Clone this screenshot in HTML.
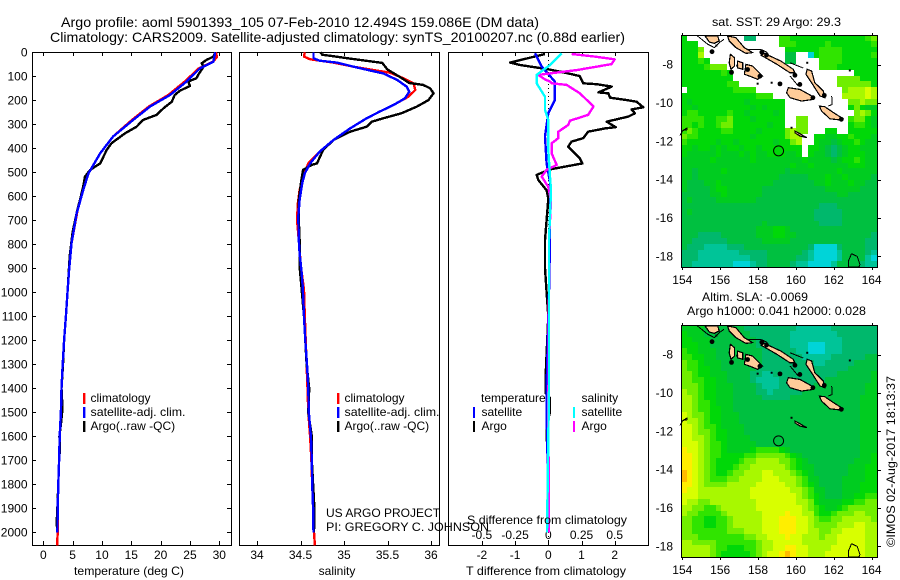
<!DOCTYPE html>
<html>
<head>
<meta charset="utf-8">
<title>Argo profile</title>
<style>
html,body{margin:0;padding:0;background:#fff;}
svg{display:block;}
text{font-family:"Liberation Sans",sans-serif;font-size:12px;fill:#000;}
</style>
</head>
<body>
<svg id="chart" xmlns="http://www.w3.org/2000/svg" width="900" height="580" viewBox="0 0 900 580">
<rect x="0" y="0" width="900" height="580" fill="#fff"/>
<text x="61" y="27" style="font-size:14px" textLength="478" lengthAdjust="spacingAndGlyphs">Argo profile: aoml 5901393_105 07-Feb-2010 12.494S 159.086E (DM data)</text>
<text x="50" y="42" style="font-size:14px" textLength="575" lengthAdjust="spacingAndGlyphs">Climatology: CARS2009. Satellite-adjusted climatology: synTS_20100207.nc (0.88d earlier)</text>
<g id="plots"></g>
<g id="maps"></g>

<g>
<rect x="83" y="393" width="2.4" height="11" fill="#f00"/>
<rect x="83" y="407" width="2.4" height="11" fill="#00f"/>
<rect x="83" y="421" width="2.4" height="11" fill="#000"/>
<text x="90.5" y="402">climatology</text>
<text x="90.5" y="416" textLength="95" lengthAdjust="spacingAndGlyphs">satellite-adj. clim.</text>
<text x="90.5" y="430">Argo(..raw -QC)</text>
</g>
<g>
<rect x="337" y="393" width="2.4" height="11" fill="#f00"/>
<rect x="337" y="407" width="2.4" height="11" fill="#00f"/>
<rect x="337" y="421" width="2.4" height="11" fill="#000"/>
<text x="344.5" y="402">climatology</text>
<text x="344.5" y="416" textLength="95" lengthAdjust="spacingAndGlyphs">satellite-adj. clim.</text>
<text x="344.5" y="430">Argo(..raw -QC)</text>
</g>
<text x="326" y="517">US ARGO PROJECT</text>
<text x="326" y="531" textLength="163" lengthAdjust="spacingAndGlyphs">PI: GREGORY C. JOHNSON</text>
<g>
<text x="481" y="402">temperature</text>
<rect x="473" y="407" width="2" height="11" fill="#00f"/>
<text x="481.5" y="416">satellite</text>
<rect x="473" y="421" width="2" height="11" fill="#000"/>
<text x="481.5" y="430">Argo</text>
<text x="581.5" y="402">salinity</text>
<rect x="573" y="407" width="2" height="11" fill="#0ff"/>
<text x="581.5" y="416">satellite</text>
<rect x="573" y="421" width="2" height="11" fill="#f0f"/>
<text x="581.5" y="430">Argo</text>
</g>
<text x="467" y="524" textLength="160" lengthAdjust="spacingAndGlyphs">S difference from climatology</text>
<text x="74" y="575" textLength="110" lengthAdjust="spacingAndGlyphs">temperature (deg C)</text>
<text x="337" y="575" text-anchor="middle">salinity</text>
<text x="466" y="575" textLength="160" lengthAdjust="spacingAndGlyphs">T difference from climatology</text>
<text x="712" y="26" textLength="129" lengthAdjust="spacingAndGlyphs">sat. SST: 29 Argo: 29.3</text>
<text x="702" y="301" textLength="106" lengthAdjust="spacingAndGlyphs">Altim. SLA: -0.0069</text>
<text x="687" y="315" textLength="179" lengthAdjust="spacingAndGlyphs">Argo h1000: 0.041 h2000: 0.028</text>
<text transform="translate(895,547) rotate(-90)" textLength="171" lengthAdjust="spacingAndGlyphs">©IMOS 02-Aug-2017 18:13:37</text>
</svg>

<script>
// ---- depth axis ----
const depthTicks = [0,100,200,300,400,500,600,700,800,900,1000,1100,1200,1300,1400,1500,1600,1700,1800,1900,2000];
const tempTicks = [0,5,10,15,20,25,30];
const salTicks = [34,34.5,35,35.5,36];
const salTickLabels = ["34","34.5","35","35.5","36"];
const tDiffTicks = [-2,-1,0,1,2];
const sDiffTicks = [-0.5,-0.25,0,0.25,0.5];
const sDiffTickLabels = ["-0.5","-0.25","0","0.25","0.5"];
const lonTicks = [154,156,158,160,162,164];
const latTicks = [-8,-10,-12,-14,-16,-18];

// ---- temperature profiles ----
const tempSatDepth = [0,39,67,122,178,226,282,351,421,504,574,671,796,907,976,1100,1200,1300,1400,1500,1600,1700,1800,1900,2000];
const tempSat = [29.3,29.0,26.7,24.4,21.6,18.2,15.3,11.9,9.7,7.7,6.8,5.7,4.8,4.4,4.2,3.85,3.55,3.3,3.1,3.0,2.8,2.7,2.56,2.45,2.4];
const tempClimDepth = [0,20,39,67,122,178,226,282,351,421,504,574,650,796,907,976,1100,1200,1300,1400,1500,1600,1700,1800,1900,2000,2054];
const tempClim = [29.4,29.6,28.9,26.5,24.1,21.3,18.0,15.1,11.9,9.7,7.7,6.75,5.9,4.8,4.4,4.2,3.85,3.55,3.3,3.1,3.0,2.8,2.7,2.56,2.45,2.45,2.35];
const tempArgoDepth = [0,18,32,46,60,94,108,122,140,160,178,206,233,261,282,310,338,379,407,463,490,518,560,615,657,750,850,976,1100,1200,1300,1400,1450,1500,1550,1600,1650,1700,1800,1900,1950,2000];
const tempArgo = [29.3,29.0,27.8,27.0,27.3,26.4,26.1,24.7,25.0,23.3,22.4,21.9,20.5,19.3,17.0,15.9,13.9,11.6,10.8,9.7,8.0,7.1,6.8,6.25,5.8,5.0,4.5,4.2,3.85,3.55,3.35,3.1,3.2,3.2,3.0,2.75,2.85,2.7,2.55,2.4,2.3,2.35];

// ---- salinity profiles ----
const salSatDepth = [0,25,35,43,60,76,88,115,143,164,192,219,247,275,317,365,414,463,504,546,615,685,782,838,907,976,1100,1200,1300,1400,1500,1600,1700,1800,1900,2000];
const salSat = [34.65,34.65,34.72,34.92,35.11,35.30,35.45,35.61,35.72,35.75,35.70,35.57,35.41,35.26,35.07,34.88,34.72,34.61,34.55,34.52,34.49,34.475,34.48,34.49,34.51,34.525,34.54,34.555,34.575,34.59,34.595,34.62,34.63,34.635,34.645,34.65];
const salClimDepth = [0,18,29,43,60,74,85,108,129,157,185,219,247,275,317,365,414,463,518,574,629,699,782,893,990,1100,1200,1300,1400,1500,1600,1700,1800,1900,2000,2054];
const salClim = [34.55,34.54,34.61,34.88,35.11,35.34,35.53,35.68,35.80,35.82,35.74,35.57,35.41,35.26,35.07,34.88,34.72,34.59,34.53,34.49,34.47,34.46,34.48,34.505,34.54,34.55,34.56,34.57,34.58,34.59,34.61,34.625,34.635,34.645,34.655,34.665];
const salArgoDepth = [0,10,26,44,72,100,128,136,150,171,199,226,254,275,289,310,331,365,407,463,469,490,532,560,615,699,782,893,976,1100,1200,1300,1400,1500,1600,1700,1800,1900,2000];
const salArgo = [34.73,34.75,35.06,35.44,35.5,35.63,35.75,35.91,35.99,36.03,35.97,35.84,35.66,35.45,35.32,35.26,35.07,34.88,34.76,34.69,34.63,34.53,34.51,34.50,34.48,34.48,34.49,34.49,34.51,34.54,34.555,34.57,34.6,34.59,34.63,34.63,34.645,34.66,34.655];

// ---- difference profiles ----
const tDiffArgoDepth = [7,43,53,71,88,99,129,133,143,167,171,189,199,206,229,238,254,268,279,289,312,317,331,358,372,393,442,463,488,511,532,575,610,700,783,900,1000,1100,1350,1420,1440,1500,1550,1600,1700,2000];
const tDiffArgo = [-0.1,-1.15,-0.85,0,0.6,0.95,1.05,1.46,1.91,1.51,1.81,1.86,2.36,2.66,2.86,2.51,2.61,2.41,2.06,1.76,2.03,1.71,1.2,1.05,0.7,0.6,0.95,1.03,0.05,-0.35,-0.3,-0.05,0,-0.05,-0.1,-0.1,-0.05,0,-0.08,-0.08,0.05,0.05,-0.05,-0.05,0,0];
const tDiffSatDepth = [4,60,122,199,254,351,463,540,783,1000,1400,1500,1700,2000];
const tDiffSat = [-0.4,-0.2,0.2,0.2,0,-0.1,-0.05,0.05,0.05,0.02,-0.05,-0.05,-0.02,-0.02];
const sDiffArgoDepth = [7,18,29,49,74,94,113,122,129,136,171,226,261,285,303,331,358,379,421,469,490,518,561,617,783,1000,1500,2000];
const sDiffArgo = [0.176,0.35,0.5,0.477,0.213,-0.075,-0.025,0.0125,0.025,0.138,0.238,0.34,0.3,0.163,0.15,0.075,0.075,0.025,0.025,0.063,-0.0125,-0.05,0,0.02,0.005,0.005,0,0.005];
const sDiffSatDepth = [4,53,94,129,185,240,282,407,518,575,783,1400,2000];
const sDiffSat = [0.1,0.0125,-0.088,-0.088,-0.025,-0.025,0,0,0.0125,0.02,0.005,0.005,-0.01];

// ---- map values: colour-level per grid cell, -1 = no data ----
const sstLevels = [
[5,-1,-1,-1,-1,-1,-1,-1,-1,-1,-1,2,2,-1,-1,-1,-1,6,6,5,5,5,5,5,5,5,5,5,5,5,5,5,6,7],
[5,5,5,-1,-1,-1,-1,-1,-1,-1,-1,-1,-1,-1,-1,-1,-1,6,6,6,5,5,5,5,5,6,5,5,5,5,5,5,5,6],
[5,5,5,7,-1,-1,-1,-1,-1,-1,-1,-1,-1,-1,-1,-1,-1,-1,5,5,5,5,5,5,6,6,6,6,5,5,5,5,5,5],
[5,5,5,8,-1,-1,-1,-1,-1,-1,-1,-1,-1,-1,-1,-1,-1,-1,3,3,-1,-1,0,5,6,6,6,6,5,5,5,5,5,6],
[5,5,5,6,5,-1,-1,-1,-1,-1,-1,-1,-1,-1,-1,-1,-1,-1,3,3,-1,-1,-1,-1,6,6,6,6,5,5,5,5,5,5],
[5,5,5,5,6,7,7,7,-1,-1,-1,-1,-1,-1,-1,-1,-1,-1,-1,-1,-1,-1,-1,-1,6,6,6,5,5,5,5,5,5,5],
[5,5,5,5,5,5,5,6,5,-1,-1,-1,-1,-1,-1,-1,-1,-1,-1,-1,-1,-1,-1,-1,-1,-1,-1,-1,-1,-1,5,5,5,5],
[5,5,5,5,5,5,5,5,5,-1,-1,-1,-1,-1,-1,-1,-1,-1,-1,-1,-1,-1,-1,-1,-1,-1,-1,7,7,7,7,5,5,5],
[5,5,5,5,5,5,5,5,6,6,-1,-1,-1,-1,-1,-1,-1,-1,-1,-1,-1,-1,-1,-1,-1,-1,-1,7,7,7,7,7,7,5],
[-1,5,5,5,5,5,5,5,5,6,6,6,6,-1,-1,-1,-1,-1,-1,-1,-1,-1,-1,-1,-1,-1,-1,-1,7,8,8,8,9,8],
[5,5,5,5,5,5,5,5,5,5,5,5,5,6,6,6,-1,-1,-1,-1,-1,-1,-1,-1,-1,-1,-1,-1,8,8,8,8,9,8],
[5,4,5,5,5,5,5,5,5,5,5,4,5,5,5,5,5,5,-1,-1,-1,-1,-1,-1,-1,-1,-1,-1,-1,7,7,8,7,7],
[5,5,4,5,5,5,5,5,5,5,5,5,4,5,4,5,5,5,-1,-1,-1,-1,-1,-1,-1,-1,-1,-1,-1,5,7,5,4,4],
[5,6,6,5,5,5,5,5,6,5,5,4,5,5,5,5,4,5,-1,-1,-1,-1,-1,-1,-1,-1,-1,-1,-1,-1,7,8,7,5],
[6,6,6,6,5,5,6,6,7,5,5,5,4,5,5,5,5,5,-1,-1,7,7,-1,-1,-1,-1,-1,-1,-1,6,7,7,5,4],
[6,6,5,6,5,5,6,7,7,5,5,5,5,5,5,4,5,5,-1,-1,7,7,-1,-1,-1,-1,-1,-1,-1,5,6,6,5,4],
[6,7,6,5,5,5,5,6,6,5,5,5,5,4,5,5,5,5,7,8,7,7,-1,-1,-1,5,5,-1,-1,5,5,5,5,5],
[7,6,6,5,5,5,5,5,5,5,5,5,4,5,5,5,5,5,7,8,8,-1,-1,5,5,4,4,5,5,6,5,5,5,4],
[6,5,5,5,5,5,4,5,5,4,5,5,5,5,5,5,4,5,5,7,8,-1,-1,5,4,4,3,4,5,5,6,5,4,4],
[5,5,4,5,5,4,5,4,5,5,4,5,5,4,5,5,5,5,5,5,5,-1,5,5,4,3,2,3,4,5,5,4,4,4],
[5,4,4,4,4,4,5,4,4,4,5,4,5,4,4,5,5,5,4,4,5,-1,5,4,4,3,2,3,4,5,5,5,4,4],
[4,4,4,4,4,5,4,4,4,4,4,4,5,4,4,4,4,4,4,4,4,5,4,4,4,4,3,4,5,5,6,5,4,4],
[4,4,4,4,4,4,4,4,4,4,4,4,4,4,4,4,4,4,4,5,4,4,5,4,4,4,4,4,4,5,5,5,4,4],
[4,4,3,4,4,4,4,5,4,4,4,4,4,4,4,4,4,4,3,4,4,4,4,4,4,4,4,5,4,4,4,4,4,4],
[4,4,3,4,4,4,4,4,4,4,4,4,4,4,4,4,4,3,3,3,3,3,4,4,4,5,4,4,5,4,4,4,4,3],
[4,3,3,3,4,4,5,4,4,4,4,4,4,4,4,4,3,3,3,3,3,3,3,4,4,5,4,4,4,5,4,4,3,3],
[4,3,3,3,3,4,5,5,4,4,4,4,4,4,3,3,3,3,3,3,3,3,3,3,3,4,4,4,4,4,4,3,3,3],
[3,3,3,3,3,4,4,5,4,4,4,4,4,4,3,3,3,3,3,3,3,3,3,3,3,3,3,4,4,3,3,3,3,3],
[3,4,3,3,3,3,4,4,4,4,4,4,4,3,3,3,3,3,3,3,3,3,3,3,3,3,3,3,3,3,3,3,3,3],
[3,3,3,3,3,3,3,3,3,3,3,3,3,3,3,3,3,3,3,3,3,3,3,3,2,2,2,3,3,3,3,3,3,3],
[3,4,3,3,3,3,3,3,3,3,3,3,3,3,3,3,3,3,3,3,3,3,3,2,2,2,2,2,3,3,3,3,3,3],
[3,3,3,3,3,3,3,3,3,3,3,3,3,3,3,3,3,3,3,3,3,3,3,2,2,2,2,2,3,3,3,3,3,3],
[3,3,3,3,3,3,3,3,3,3,3,3,3,3,4,3,3,3,3,3,3,3,3,3,2,2,2,2,3,3,3,3,3,3],
[3,3,3,3,3,3,3,3,3,3,3,3,3,4,4,4,5,5,4,3,3,3,3,3,3,3,3,3,3,3,3,3,3,3],
[3,3,3,2,2,2,2,3,3,3,3,3,3,4,4,4,5,5,4,4,3,3,3,3,3,3,3,3,3,3,3,3,3,2],
[3,3,2,2,2,2,2,2,3,3,3,3,3,3,4,4,4,4,4,3,3,3,3,3,3,3,3,3,3,3,3,3,2,2],
[3,2,2,2,1,1,1,1,2,2,2,3,3,3,3,3,3,3,3,3,3,3,2,0,0,0,0,2,3,3,3,3,2,2],
[2,2,2,1,1,1,1,1,1,1,2,2,2,2,2,3,3,3,3,3,3,2,1,0,0,0,0,1,3,3,3,3,2,1],
[2,2,2,1,1,1,1,1,1,1,1,1,2,2,2,3,3,3,3,3,2,2,1,0,0,0,0,1,3,3,3,3,1,0],
[2,2,1,1,1,1,1,1,1,0,0,0,1,2,2,3,3,3,3,2,1,1,0,0,0,0,1,3,3,3,3,2,1,1]
];
const slaLevels = [
[4,4,4,4,3,3,3,3,3,3,3,2,2,2,2,2,2,2,2,2,1,1,1,1,1,1,2,2,2,2,2,2,2,2],
[5,4,4,4,3,3,3,3,3,3,3,3,2,2,2,2,2,2,2,1,1,1,1,1,1,1,1,2,2,2,2,2,2,2],
[5,5,4,4,4,3,3,3,3,3,3,3,3,2,2,2,2,2,2,1,1,1,1,1,1,1,1,1,2,2,2,2,2,2],
[5,5,5,4,4,3,3,3,3,3,3,3,3,2,2,2,2,2,2,1,1,1,0,0,0,1,1,1,2,2,2,2,2,2],
[6,5,5,4,4,4,3,3,3,3,3,3,3,3,2,2,2,2,2,2,1,1,0,0,0,1,1,1,2,2,2,2,2,2],
[6,6,5,5,4,4,3,3,3,3,3,3,3,3,2,2,2,2,2,2,2,1,1,1,1,1,2,2,2,2,2,2,3,3],
[7,6,6,5,4,4,4,3,3,3,3,3,3,3,2,2,2,2,2,2,2,2,2,1,1,2,2,2,2,2,3,3,3,3],
[7,6,6,5,5,4,4,3,3,3,3,3,3,2,2,2,2,2,2,2,2,2,2,2,2,2,2,2,2,3,3,3,3,3],
[7,7,6,5,5,4,4,4,3,3,3,3,2,2,1,1,2,2,2,2,2,2,2,2,2,2,2,3,3,3,3,3,3,4],
[7,7,6,6,5,5,4,4,3,3,3,3,2,1,1,1,1,2,2,2,2,2,2,2,2,3,3,3,3,3,3,3,3,4],
[7,7,7,6,5,5,4,4,4,3,3,3,3,2,1,1,1,2,2,2,2,2,2,3,3,3,3,3,3,3,3,3,4,4],
[8,7,7,6,5,5,4,4,4,3,3,3,3,2,2,1,2,2,2,2,2,3,3,3,3,3,3,3,3,3,3,3,4,4],
[8,8,7,6,5,5,4,4,4,3,3,3,3,3,2,2,2,2,2,3,3,3,3,3,3,3,3,3,3,3,3,4,4,4],
[8,8,7,6,6,5,4,4,4,3,3,3,3,3,3,3,3,3,3,3,3,3,3,3,3,3,3,3,3,3,3,4,4,4],
[8,8,7,6,6,5,5,4,4,3,3,3,3,3,3,3,3,3,3,3,3,3,3,3,3,3,3,3,3,3,3,4,4,4],
[9,8,7,7,6,5,5,4,4,4,3,3,3,3,3,3,3,3,3,3,3,3,3,3,3,3,3,3,3,3,3,4,4,4],
[9,8,8,7,6,5,5,4,4,4,3,3,3,3,3,3,3,3,3,3,3,3,3,3,3,3,3,3,3,3,3,4,4,4],
[9,9,8,7,6,6,5,4,4,4,4,3,3,3,3,3,3,3,3,3,3,3,3,3,3,3,3,3,3,3,3,4,4,4],
[9,9,8,7,7,6,5,5,4,4,4,3,3,3,3,3,3,3,3,3,3,3,3,3,3,3,3,3,3,3,3,4,4,4],
[9,9,8,8,7,6,5,5,4,4,4,4,3,3,3,3,3,3,3,3,3,3,3,3,3,3,3,3,3,3,3,4,4,4],
[9,9,9,8,7,6,6,5,4,4,4,4,4,3,3,3,3,3,3,3,3,3,3,3,3,3,3,3,3,3,3,4,4,4],
[10,9,9,8,7,6,6,5,4,4,4,4,5,6,6,6,6,5,4,3,3,3,3,3,3,3,3,3,3,3,3,4,4,4],
[10,10,9,8,7,6,6,5,5,5,5,6,6,7,7,7,7,7,6,5,4,3,3,3,3,3,3,3,3,3,3,4,4,5],
[10,10,9,8,7,6,5,5,5,5,6,7,7,8,8,8,8,7,7,6,5,4,3,3,3,3,3,3,3,3,4,4,4,5],
[10,10,9,8,7,6,5,5,5,6,7,7,8,8,8,8,8,8,7,6,5,4,4,3,3,3,3,3,3,4,4,4,5,5],
[11,10,9,8,7,6,5,5,6,7,7,8,8,8,9,9,8,8,8,7,6,5,4,3,3,3,3,3,3,4,4,4,5,5],
[11,10,9,8,7,6,6,6,7,7,8,8,8,8,9,9,9,8,8,8,7,6,4,4,3,3,3,3,4,4,4,4,5,5],
[10,10,9,8,7,7,7,7,8,8,8,8,8,9,9,9,9,9,8,8,7,6,5,4,3,3,3,3,4,4,4,5,5,5],
[10,9,9,8,8,8,8,8,8,8,8,8,9,9,9,9,9,9,9,8,8,7,6,4,4,3,3,3,4,4,4,5,5,5],
[9,9,9,8,8,8,8,8,8,8,8,8,9,9,9,9,9,9,9,9,8,7,6,5,4,3,3,3,4,4,5,5,6,6],
[9,8,8,7,7,8,8,8,8,8,8,8,8,9,9,9,9,9,9,9,8,8,7,5,4,4,4,4,5,5,6,6,7,7],
[8,8,7,7,6,6,7,8,8,8,8,8,8,9,9,9,9,9,9,9,9,8,7,6,5,4,4,5,6,7,7,7,7,7],
[8,7,7,6,6,6,6,7,8,8,8,8,8,8,9,9,9,9,10,9,9,8,8,6,5,5,6,7,7,7,8,8,7,7],
[7,7,6,6,5,5,6,6,7,8,8,8,8,8,9,9,9,10,10,10,9,9,8,7,6,6,7,7,8,8,8,8,8,7],
[7,7,6,6,5,5,6,6,7,8,8,8,8,8,9,9,9,10,10,10,9,9,8,7,7,7,7,8,8,8,9,9,8,8],
[7,7,6,6,6,6,6,6,7,7,7,8,8,8,9,9,9,10,10,10,9,9,8,8,7,7,8,8,9,9,9,9,8,8],
[7,7,7,6,6,6,6,6,6,6,6,7,7,8,8,9,9,9,10,9,9,8,8,8,7,8,8,9,9,9,9,9,8,8],
[8,8,7,7,7,7,6,6,6,6,6,6,6,7,8,8,9,9,9,9,9,8,8,8,8,8,8,9,9,9,9,9,8,8],
[8,8,8,8,8,7,6,6,5,5,5,6,6,7,8,8,9,9,10,10,9,9,8,8,8,8,9,9,9,9,9,9,8,8],
[8,8,8,8,8,7,6,5,5,5,5,5,6,7,8,9,9,10,11,10,9,9,8,8,8,9,9,9,9,9,9,9,8,8]
];
const profileLon = [159.086];
const profileLat = [-12.494];
// coast polygons in lon / lat degrees
const landPolygons = [
[[155.2,-6.5],[155.87,-6.5],[155.95,-6.76],[155.69,-6.89],[155.43,-6.82]],
[[156.39,-6.5],[156.83,-6.59],[157.27,-7.11],[157.71,-7.37],[157.36,-7.41],[156.83,-7.11],[156.48,-6.76]],
[[158.33,-7.41],[159.21,-7.81],[159.86,-8.24],[159.95,-8.42],[159.69,-8.42],[159.0,-7.98],[158.5,-7.7],[158.15,-7.5]],
[[156.54,-7.46],[156.75,-7.63],[156.75,-8.07],[156.57,-8.24],[156.48,-7.9]],
[[156.92,-7.81],[157.19,-7.9],[157.19,-8.24],[156.92,-8.16]],
[[157.36,-7.98],[157.71,-8.07],[158.24,-8.59],[157.98,-8.76],[157.54,-8.59],[157.28,-8.5]],
[[159.6,-9.2],[160.21,-9.29],[160.83,-9.63],[160.92,-9.81],[160.3,-9.9],[159.69,-9.72],[159.51,-9.46]],
[[160.6,-8.24],[160.83,-8.33],[161.0,-8.94],[161.45,-9.37],[161.53,-9.72],[161.27,-9.63],[160.83,-8.94],[160.53,-8.5]],
[[161.24,-10.16],[161.53,-10.19],[161.98,-10.5],[162.5,-10.82],[162.42,-10.89],[161.8,-10.82],[161.36,-10.42]],
[[159.95,-11.46],[160.21,-11.6],[160.57,-11.81],[160.21,-11.72],[159.95,-11.55]]
];
const coastOutlines = [
[[154.8,-6.5],[155.34,-6.93],[155.69,-7.11],[155.95,-6.85],[156.2,-6.68]],
[[157.45,-7.2],[158.15,-7.2],[158.5,-7.37]],
[[159.69,-7.9],[160.39,-8.17]],
[[159.69,-8.59],[160.13,-9.11]],
[[161.89,-9.63],[161.92,-10.07],[161.71,-10.16]],
[[162.94,-17.86],[163.24,-18],[163.38,-18.43],[163.33,-18.56],[162.77,-18.56],[162.77,-18.26],[162.94,-17.86]],
[[153.88,-11.7],[154.02,-11.43],[154.26,-11.3],[154.26,-11.39],[154.02,-11.43]]
];
const islandBlobs = [[155.57,-7.32],[159.16,-9.0],[160.21,-9.03],[158.2,-7.35],[158.45,-7.5],[157.45,-8.25],[158.1,-8.6],[156.6,-8.4],[159.95,-8.55],[160.9,-9.72],[161.5,-9.6],[162.4,-10.85]];
const islandDots = [[158.72,-8.94],[157.98,-8.99],[159.77,-11.29],[160.6,-7.9],[162.85,-8.3],[155.8,-7.0],[156.9,-8.05]];
const levelColors = ["#00d4d8","#00c498","#00b86c","#00c040","#00cc20","#00d808","#30e400","#70ee00","#a8f800","#d8ff00","#ffee00","#ffbb00"];

// ---- scales ----
const NS = "http://www.w3.org/2000/svg";
const depthY = d => 52.3 + d * 0.24;
const tempX = t => 43.3 + t * 5.867;
const salX = s => 257 + (s - 34) * 87;
const tDiffX = v => 548.3 + v * 33.2;
const sDiffX = v => 548.3 + v * 132.8;
const lonX = lon => 682.3 + (lon - 154) * 18.93;
const latY = (lat, top) => top + 29.7 + (-8 - lat) * 19.17;

function mk(tag, attrs, parent) {
  const el = document.createElementNS(NS, tag);
  for (const k in attrs) el.setAttribute(k, attrs[k]);
  parent.appendChild(el);
  return el;
}
const plots = document.getElementById("plots");
const maps = document.getElementById("maps");

function frame(x0, x1, y0, y1, parent) {
  const el = mk("rect", {x: x0 + .5, y: y0 + .5, width: x1 - x0, height: y1 - y0, fill: "none", stroke: "#000", "stroke-width": 1, "shape-rendering": "crispEdges"}, parent);
  
  
}
function tick(x1, y1, x2, y2, parent) {
  const el = mk("line", {x1: x1, y1: y1, x2: x2, y2: y2, stroke: "#000", "stroke-width": 1, "shape-rendering": "crispEdges"}, parent);
  
  
}
function label(x, y, s, anchor, parent) {
  const el = mk("text", {x: x, y: y, "text-anchor": anchor}, parent);
  el.textContent = s;
  
  
}
function curve(depths, values, xf, color, width, name) {
  const pts = depths.map((d, i) => xf(values[i]).toFixed(1) + "," + depthY(d).toFixed(1)).join(" ");
  const el = mk("polyline", {points: pts, fill: "none", stroke: color, "stroke-width": width, "shape-rendering": "crispEdges", "stroke-linejoin": "round"}, plots);
  
  
}

// panel frames
const panelLeft = [32, 239, 448];
const panelRight = [231, 439, 648];
panelLeft.forEach((x, i) => frame(x, panelRight[i], 52, 545, plots));

// x axis ticks and labels
function xAxis(ticks, labels, xf, labelY, topTicks) {
  ticks.forEach((t, i) => {
    const x = Math.round(xf(t)) + .5;
    if (topTicks) tick(x, 52, x, 56, plots);
    tick(x, 545, x, 541, plots);
    if (labelY) label(xf(t), labelY, labels[i], "middle", plots);
  });
}
xAxis(tempTicks, tempTicks.map(String), tempX, 559, true);
xAxis(salTicks, salTickLabels, salX, 559, true);
xAxis(tDiffTicks, tDiffTicks.map(String), tDiffX, 559, false);
xAxis(sDiffTicks, sDiffTickLabels, sDiffX, 539, true);

// depth axis
depthTicks.forEach(d => {
  const y = Math.round(depthY(d)) + .5;
  tick(32, y, 36, y, plots);
  tick(231, y, 227, y, plots);
  label(27.5, depthY(d) + 4, String(d), "end", plots);
});

// zero line in the difference panel
const zeroLine = mk("line", {x1: tDiffX(0), y1: 52, x2: tDiffX(0), y2: 545, stroke: "#000", "stroke-width": 1, "stroke-dasharray": "1 3", "shape-rendering": "crispEdges"}, plots);



// series
curve(tempClimDepth, tempClim, tempX, "#f00", 2.4, "temperature-climatology-line");
curve(tempArgoDepth, tempArgo, tempX, "#000", 2.4, "temperature-argo-line");
curve(tempSatDepth, tempSat, tempX, "#00f", 2.4, "temperature-satellite-line");
curve(salClimDepth, salClim, salX, "#f00", 2.4, "salinity-climatology-line");
curve(salArgoDepth, salArgo, salX, "#000", 2.4, "salinity-argo-line");
curve(salSatDepth, salSat, salX, "#00f", 2.4, "salinity-satellite-line");
curve(tDiffArgoDepth, tDiffArgo, tDiffX, "#000", 2.4, "t-difference-argo-line");
curve(tDiffSatDepth, tDiffSat, tDiffX, "#00f", 2.4, "t-difference-satellite-line");
curve(sDiffArgoDepth, sDiffArgo, sDiffX, "#f0f", 2.4, "s-difference-argo-line");
curve(sDiffSatDepth, sDiffSat, sDiffX, "#0ff", 2.4, "s-difference-satellite-line");

// maps
const lonOrigin = 153.93, lonStep = 0.3044, latOrigin = -6.45, latStep = 0.3025;
function drawMap(levels, top, name) {
  const g = mk("g", {}, maps);
  
  
  levels.forEach((row, r) => {
    row.forEach((v, c) => {
      if (v < 0) return;
      const x = lonX(lonOrigin + c * lonStep), y = latY(latOrigin - r * latStep, top);
      const x2 = lonX(lonOrigin + (c + 1) * lonStep), y2 = latY(latOrigin - (r + 1) * latStep, top);
      const cell = mk("rect", {x: Math.round(x), y: Math.round(y), width: Math.round(x2) - Math.round(x), height: Math.round(y2) - Math.round(y), fill: levelColors[v], "shape-rendering": "crispEdges"}, g);
      
      
    });
  });
  const ptStr = ring => ring.map(p => lonX(p[0]).toFixed(1) + "," + latY(p[1], top).toFixed(1)).join(" ");
  landPolygons.forEach(ring => {
    const el = mk("polygon", {points: ptStr(ring), fill: "#ffcc99", stroke: "#000", "stroke-width": 1.2, "shape-rendering": "crispEdges"}, g);
    
    
  });
  coastOutlines.forEach(ring => {
    const el = mk("polyline", {points: ptStr(ring), fill: "none", stroke: "#000", "stroke-width": 1, "shape-rendering": "crispEdges"}, g);
    
    
  });
  islandBlobs.forEach(p => {
    const el = mk("circle", {cx: lonX(p[0]), cy: latY(p[1], top), r: 2.4, fill: "#000"}, g);
    
    
  });
  islandDots.forEach(p => {
    const el = mk("rect", {x: lonX(p[0]) - 1, y: latY(p[1], top) - 1, width: 2, height: 2, fill: "#000"}, g);
    
    
  });
  profileLon.forEach((lon, i) => {
    const el = mk("circle", {cx: lonX(lon), cy: latY(profileLat[i], top), r: 5, fill: "none", stroke: "#000", "stroke-width": 1}, g);
    
    
  });
  frame(681, 877, top, top + 232, maps);
  lonTicks.forEach(lon => {
    const x = Math.round(lonX(lon)) + .5;
    tick(x, top - 2, x, top, maps);
    tick(x, top + 232, x, top + 235, maps);
    label(lonX(lon), top + 249, String(lon), "middle", maps);
  });
  latTicks.forEach(lat => {
    const y = Math.round(latY(lat, top)) + .5;
    tick(877, y, 881, y, maps);
    label(673, latY(lat, top) + 4, String(lat), "end", maps);
  });
}
drawMap(sstLevels, 35, "sst-map");
drawMap(slaLevels, 325, "sla-map");
</script>
</body>
</html>
